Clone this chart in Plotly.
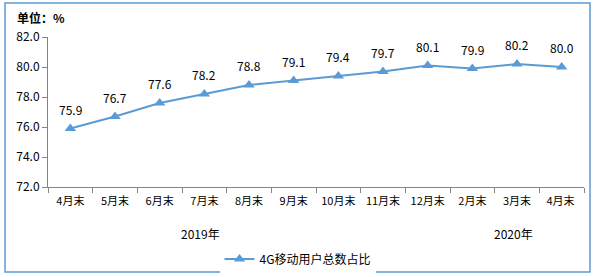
import plotly.graph_objects as go

categories = ["4月末", "5月末", "6月末", "7月末", "8月末", "9月末", "10月末",
              "11月末", "12月末", "2月末", "3月末", "4月末 "]
values = [75.9, 76.7, 77.6, 78.2, 78.8, 79.1, 79.4, 79.7, 80.1, 79.9, 80.2, 80.0]
series_name = "4G移动用户总数占比"
year_labels = ["2019年", "2020年"]
year_label_x = [0.284, 0.868]
y_ticks = [72, 74, 76, 78, 80, 82]

FONT = "Noto Sans CJK SC"
BLUE = "#5B9BD5"

fig = go.Figure()
fig.add_trace(go.Scatter(
    x=categories, y=values, mode="lines+markers", name=series_name,
    line=dict(color=BLUE, width=2),
    marker=dict(symbol="triangle-up", size=10, color=BLUE),
))

annotations = []
for c, v in zip(categories, values):
    annotations.append(dict(x=c, y=v, text=f"{v:.1f}", showarrow=False,
                            xref="x", yref="y", yanchor="bottom", yshift=9,
                            font=dict(family=FONT, size=12, color="#000000")))
for t, xp in zip(year_labels, year_label_x):
    annotations.append(dict(x=xp, y=-0.307, text=t, showarrow=False,
                            xref="paper", yref="paper", xanchor="center", yanchor="middle",
                            font=dict(family=FONT, size=12, color="#000000")))
annotations.append(dict(x=-0.062, y=1.127, text="<b>单位：%</b>", showarrow=False,
                        xref="paper", yref="paper", xanchor="left", yanchor="middle",
                        font=dict(family=FONT, size=12, color="#000000")))

fig.update_layout(
    width=595, height=277,
    margin=dict(l=48, r=11, t=37, b=90),
    paper_bgcolor="white", plot_bgcolor="white",
    font=dict(family=FONT, size=11, color="#000000"),
    showlegend=True,
    legend=dict(orientation="h", xref="container", yref="container",
                x=0.5, xanchor="center", y=0.065, yanchor="middle",
                font=dict(family=FONT, size=12, color="#000000")),
    annotations=annotations,
    shapes=[dict(type="rect", xref="paper", yref="paper",
                 x0=-0.0802, x1=1.0112, y0=-0.5667, y1=1.2267,
                 line=dict(color=BLUE, width=1.5), fillcolor="rgba(0,0,0,0)")],
)
fig.update_xaxes(type="category", range=[-0.5, len(categories) - 0.5],
                 showline=True, linecolor="#868686", linewidth=1,
                 ticks="outside", tickson="boundaries", ticklen=5, tickcolor="#868686",
                 tickangle=0, ticklabelstandoff=4,
                 showgrid=False, tickfont=dict(family=FONT, size=11, color="#000000"))
fig.update_yaxes(range=[72, 82], tickvals=y_ticks, tickformat=".1f", showline=True,
                 linecolor="#868686", linewidth=1, ticks="outside", ticklen=5,
                 tickcolor="#868686", showgrid=False, zeroline=False,
                 tickfont=dict(family=FONT, size=12, color="#000000"))

fig.write_html("out.html")
